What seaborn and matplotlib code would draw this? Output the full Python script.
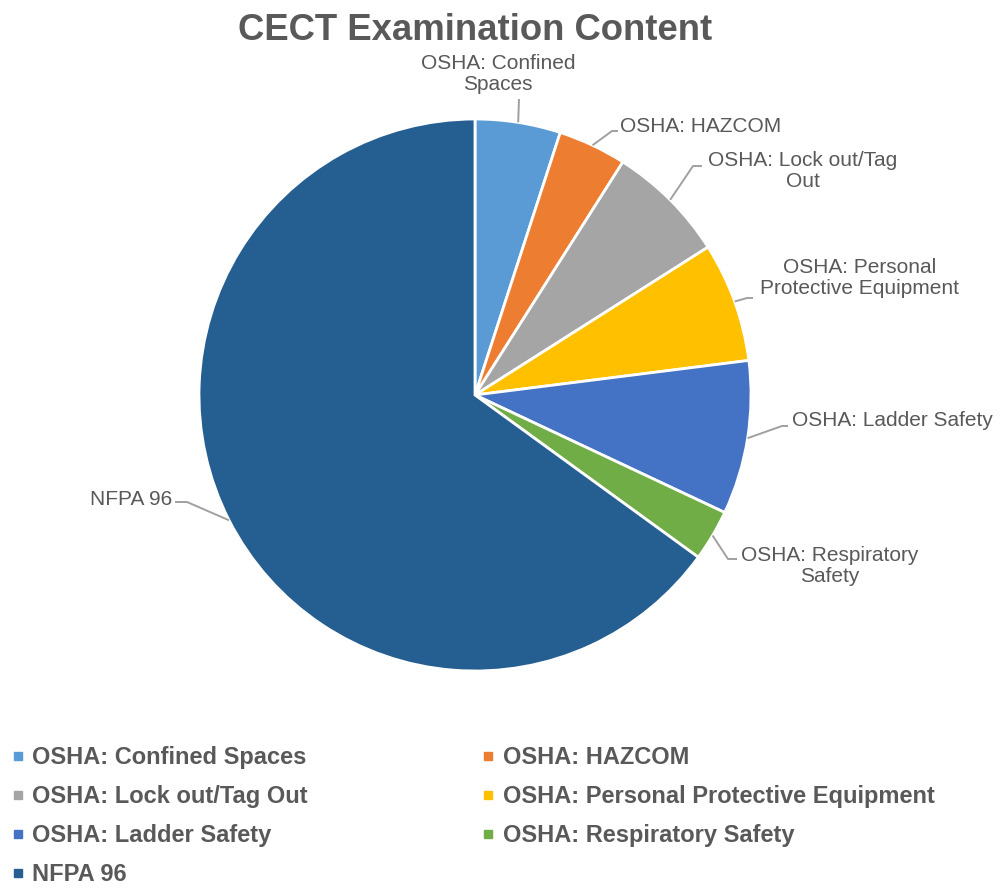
import numpy as np
import matplotlib.pyplot as plt
import seaborn as sns
from matplotlib.lines import Line2D

# chart data
categories = ["OSHA: Confined Spaces", "OSHA: HAZCOM", "OSHA: Lock out/Tag Out",
              "OSHA: Personal Protective Equipment", "OSHA: Ladder Safety",
              "OSHA: Respiratory Safety", "NFPA 96"]
slice_labels = ["OSHA: Confined\nSpaces", "OSHA: HAZCOM", "OSHA: Lock out/Tag\nOut",
                "OSHA: Personal\nProtective Equipment", "OSHA: Ladder Safety",
                "OSHA: Respiratory\nSafety", "NFPA 96"]
values = [5, 4, 7, 7, 9, 3, 65]
colors = ["#5B9BD5", "#ED7D31", "#A5A5A5", "#FFC000", "#4472C4", "#70AD47", "#255E91"]

sns.set_theme(style="white")
plt.rcParams["font.family"] = ["Liberation Sans", "DejaVu Sans"]

W, H = 1000, 888
CX, CY, R = 475, 395, 276   # pie centre / radius in pixels


def px(x, y):
    # pixel position -> data coords (pie radius = 1)
    return (x - CX) / R, (CY - y) / R


fig = plt.figure(figsize=(10, 8.88), dpi=100)
ax = fig.add_axes([0, 0, 1, 1])
wedges, _ = ax.pie(values, colors=colors, startangle=90, counterclock=False,
                   wedgeprops=dict(edgecolor="white", linewidth=2))
ax.set_xlim(-CX / R, (W - CX) / R)
ax.set_ylim(-(H - CY) / R, CY / R)
ax.set_aspect("auto")
ax.axis("off")

# label layout: text position, alignment, leader bend points (pixels)
label_pos = [(498, 74, "center"), (620, 126, "left"), (803, 171, "center"),
             (860, 278, "center"), (792, 420, "left"), (830, 566, "center"),
             (172, 499, "right")]
leader_pts = [[(519, 99)], [(612, 131), (618, 131)], [(693, 166), (702, 166)],
              [(747, 298), (753, 298)], [(782, 426), (788, 426)],
              [(728, 559), (737, 559)], [(187, 502), (175, 502)]]

for w, lab, (tx, ty, ha), pts in zip(wedges, slice_labels, label_pos, leader_pts):
    mid = np.deg2rad((w.theta1 + w.theta2) / 2)
    xs = [np.cos(mid)] + [px(*p)[0] for p in pts]
    ys = [np.sin(mid)] + [px(*p)[1] for p in pts]
    ax.plot(xs, ys, color="#A0A0A0", lw=1.4, solid_capstyle="butt")
    x, y = px(tx, ty)
    ax.text(x, y, lab, ha=ha, va="center", fontsize=15, color="#595959",
            linespacing=1.15, multialignment="center")

fig.text(CX / W, 1 - 31 / H, "CECT Examination Content", ha="center", va="center",
         fontsize=26.3, fontweight="bold", color="#595959")

# legend filled row-wise like the reference (matplotlib fills columns)
order = [0, 2, 4, 6, 1, 3, 5]
handles = [Line2D([], [], marker="s", linestyle="none", markersize=6,
                  markerfacecolor=colors[i], markeredgecolor=colors[i]) for i in order]
leg = fig.legend(handles, [categories[i] for i in order], ncol=2,
                 loc="upper left", bbox_to_anchor=(0.011, 0.16), frameon=False,
                 borderaxespad=0, borderpad=0, handlelength=0.6, handletextpad=0.3,
                 columnspacing=7.35, labelspacing=0.68,
                 prop=dict(size=17, weight="bold"))
for t in leg.get_texts():
    t.set_color("#595959")

fig.savefig("out.png", dpi=100, facecolor="white")
